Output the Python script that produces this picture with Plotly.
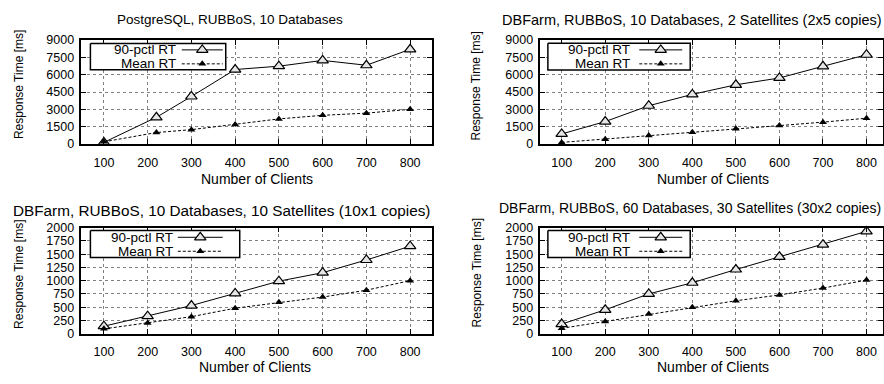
import plotly.graph_objects as go

# ---------------- data ----------------
titles = [
    "PostgreSQL, RUBBoS, 10 Databases",
    "DBFarm, RUBBoS, 10 Databases, 2 Satellites (2x5 copies)",
    "DBFarm, RUBBoS, 10 Databases, 10 Satellites (10x1 copies)",
    "DBFarm, RUBBoS, 60 Databases, 30 Satellites (30x2 copies)",
]
clients_p1 = [100, 220, 300, 400, 500, 600, 700, 800]
clients = [100, 200, 300, 400, 500, 600, 700, 800]

p90_p1 = [150, 2320, 4120, 6450, 6740, 7240, 6820, 8200]
mean_p1 = [200, 1000, 1250, 1690, 2180, 2490, 2680, 3010]

p90_p2 = [880, 1950, 3320, 4300, 5130, 5720, 6730, 7730]
mean_p2 = [150, 430, 750, 1030, 1330, 1600, 1900, 2240]

p90_p3 = [140, 330, 530, 760, 990, 1150, 1390, 1650]
mean_p3 = [90, 200, 320, 480, 590, 690, 820, 1000]

p90_p4 = [180, 450, 750, 960, 1210, 1450, 1680, 1930]
mean_p4 = [100, 230, 370, 500, 620, 730, 860, 1010]

x_ticks = [100, 200, 300, 400, 500, 600, 700, 800]
y_ticks_top = [0, 1500, 3000, 4500, 6000, 7500, 9000]
y_ticks_bot = [0, 250, 500, 750, 1000, 1250, 1500, 1750, 2000]

series_names = ["90-pctl RT", "Mean RT"]
x_title = "Number of Clients"
y_title = "Response Time [ms]"

# ---------------- layout helpers (pixel geometry) ----------------
W, H = 884, 384
FONT = "Liberation Sans, Arial, Helvetica, sans-serif"

def px(x):
    return x / W

def py(y):
    return 1 - y / H

panels = [
    # (x0, x1, y_top, y_bot, xrange, yrange, yticks)
    (81.5, 432.5, 34.3, 142.3, [48.6, 850], [0, 9000], y_ticks_top),
    (541.0, 883.5, 34.3, 142.3, [51.1, 836.7], [0, 9000], y_ticks_top),
    (81.5, 432.5, 229.0, 339.0, [48.6, 850], [0, 2000], y_ticks_bot),
    (541.0, 883.5, 229.0, 339.0, [51.1, 836.7], [0, 2000], y_ticks_bot),
]
data = [
    (clients_p1, p90_p1, mean_p1),
    (clients, p90_p2, mean_p2),
    (clients, p90_p3, mean_p3),
    (clients, p90_p4, mean_p4),
]

fig = go.Figure()
annotations = []

for i, ((x0, x1, yt, yb, xr, yr, yt_vals), (xs, p90, mean)) in enumerate(zip(panels, data)):
    n = i + 1
    xa = "x" if n == 1 else f"x{n}"
    ya = "y" if n == 1 else f"y{n}"
    fig.add_trace(go.Scatter(
        x=xs, y=p90, xaxis=xa, yaxis=ya, mode="lines+markers",
        line=dict(color="black", width=1),
        marker=dict(symbol="triangle-up", size=10, color="#e6e6e6",
                    line=dict(color="black", width=1.2)),
        showlegend=False, cliponaxis=False,
    ))
    fig.add_trace(go.Scatter(
        x=xs, y=mean, xaxis=xa, yaxis=ya, mode="lines+markers",
        line=dict(color="black", width=1, dash="3px,2px"),
        marker=dict(symbol="triangle-up", size=7, color="black"),
        showlegend=False, cliponaxis=False,
    ))
    axcommon = dict(
        showline=True, linecolor="black", linewidth=1.5, mirror="ticks",
        ticks="inside", ticklen=5, tickcolor="black", tickwidth=1,
        showgrid=True, gridcolor="#808080", griddash="dot", gridwidth=1,
        zeroline=False, tickfont=dict(family=FONT, size=12.5, color="black"),
        fixedrange=True,
    )
    fig.layout[f"xaxis{'' if n == 1 else n}"] = dict(
        axcommon, domain=[px(x0), px(x1)], range=xr, tickvals=x_ticks,
        anchor=ya, ticklabelstandoff=6,
    )
    fig.layout[f"yaxis{'' if n == 1 else n}"] = dict(
        axcommon, domain=[py(yb), py(yt)], range=yr, tickvals=yt_vals,
        anchor=xa, ticklabelstandoff=3,
    )

# titles and axis titles
title_pos = [(230, 13), (693, 13), (222, 211), (691, 209)]
title_size = [13.5, 14.5, 15.3, 14.0]
xt_pos = [(257, 178), (714, 178), (255, 374), (714, 374)]
yt_pos = [(19, 80), (477, 82), (19, 277), (477, 276)]
for i in range(4):
    tx, ty = title_pos[i]
    annotations.append(dict(text=titles[i], x=px(tx), y=py(ty), xref="paper", yref="paper",
                            showarrow=False, xanchor="center", yanchor="middle", borderpad=0,
                            font=dict(family=FONT, size=title_size[i], color="black")))
    ax_, ay_ = xt_pos[i]
    annotations.append(dict(text=x_title, x=px(ax_), y=py(ay_), xref="paper", yref="paper",
                            showarrow=False, xanchor="center", yanchor="middle",
                            font=dict(family=FONT, size=14, color="black")))
    bx, by = yt_pos[i]
    annotations.append(dict(text=y_title, x=px(bx), y=py(by), xref="paper", yref="paper",
                            showarrow=False, xanchor="center", yanchor="middle", textangle=-90,
                            font=dict(family=FONT, size=12, color="black")))

# legends (drawn manually: text left, sample right, opaque box) on a pixel overlay axis
legend_geo = [
    # box x0, x1, y0, y1, text right x, line x0, line x1, row y's
    (90.5, 226, 38, 65, 177, 182, 223, (44.5, 59)),
    (548.5, 691, 37.7, 65.5, 632, 640, 683, (44.5, 59)),
    (90.5, 240, 232, 260, 174, 178, 223, (239, 253.5)),
    (548.5, 691, 232, 260, 632, 640, 683, (239, 253.5)),
]
for (bx0, bx1, by0, by1, trx, lx0, lx1, rows) in legend_geo:
    fig.add_trace(go.Scatter(
        x=[bx0, bx1, bx1, bx0, bx0], y=[by0, by0, by1, by1, by0], xaxis="x5", yaxis="y5",
        mode="lines", fill="toself", fillcolor="white", line=dict(color="black", width=1.5),
        showlegend=False, hoverinfo="skip"))
    for k, name in enumerate(series_names):
        annotations.append(dict(text=name, x=px(trx), y=py(rows[k]), xref="paper", yref="paper",
                                showarrow=False, xanchor="right", yanchor="middle", borderpad=0,
                                font=dict(family=FONT, size=13.5, color="black")))
    fig.add_trace(go.Scatter(
        x=[lx0, lx1], y=[rows[0]] * 2, xaxis="x5", yaxis="y5",
        mode="lines", line=dict(color="black", width=1), showlegend=False, hoverinfo="skip"))
    fig.add_trace(go.Scatter(
        x=[(lx0 + lx1) / 2], y=[rows[0]], xaxis="x5", yaxis="y5", mode="markers",
        marker=dict(symbol="triangle-up", size=10, color="#e6e6e6", line=dict(color="black", width=1.2)),
        showlegend=False, hoverinfo="skip"))
    fig.add_trace(go.Scatter(
        x=[lx0, lx1], y=[rows[1]] * 2, xaxis="x5", yaxis="y5",
        mode="lines", line=dict(color="black", width=1, dash="3px,2px"), showlegend=False, hoverinfo="skip"))
    fig.add_trace(go.Scatter(
        x=[(lx0 + lx1) / 2], y=[rows[1]], xaxis="x5", yaxis="y5", mode="markers",
        marker=dict(symbol="triangle-up", size=7, color="black"),
        showlegend=False, hoverinfo="skip"))

fig.layout["xaxis5"] = dict(domain=[0, 1], range=[0, W], visible=False, fixedrange=True, anchor="y5")
fig.layout["yaxis5"] = dict(domain=[0, 1], range=[H, 0], visible=False, fixedrange=True, anchor="x5")

fig.update_layout(
    width=W, height=H,
    margin=dict(l=0, r=0, t=0, b=0),
    paper_bgcolor="white", plot_bgcolor="rgba(0,0,0,0)",
    annotations=annotations,
    showlegend=False,
    font=dict(family=FONT, size=13, color="black"),
)

fig.write_html(
    "out.html",
    config={"displayModeBar": False},
    post_script="document.body.style.margin='0px';document.body.style.padding='0px';"
                "document.body.style.overflow='hidden';",
)
